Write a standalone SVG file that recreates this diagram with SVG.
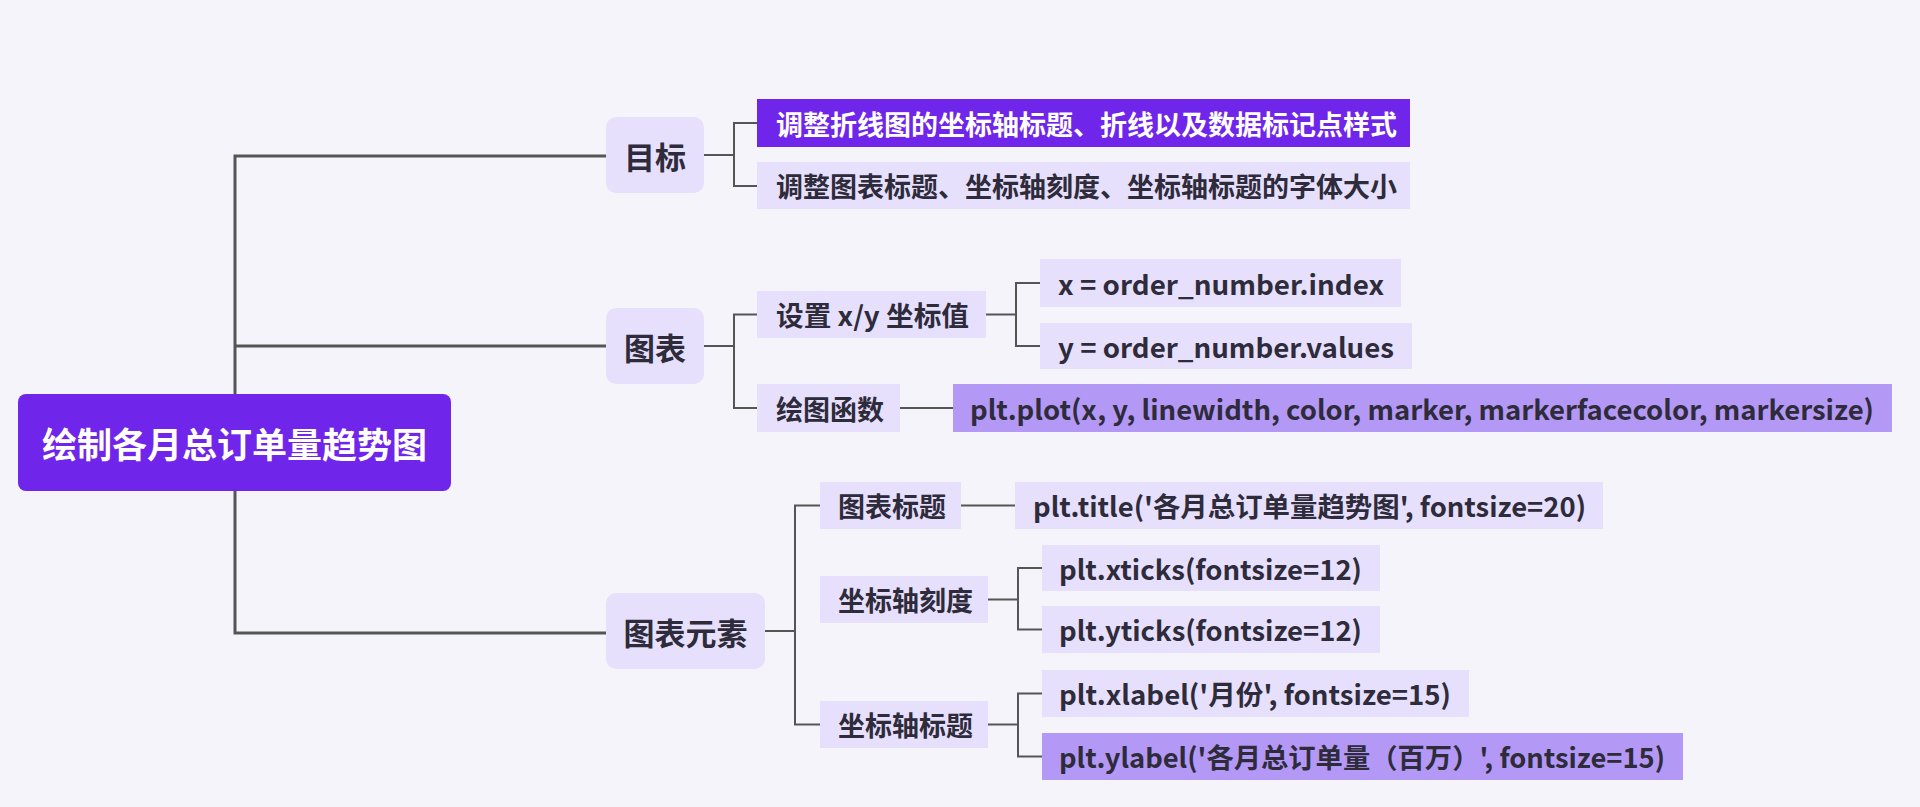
<svg xmlns="http://www.w3.org/2000/svg" width="1920" height="807" viewBox="0 0 1920 807">
<style>
.bg{fill:#f6f4fb}
.root{fill:#6f25ea}
.l2{fill:#e6e0fc}
.lt{fill:#e6e0fc}
.dk{fill:#6f25ea}
.md{fill:#b398f5}
text{font-family:"Noto Sans CJK SC","Noto Sans",sans-serif;font-weight:700;dominant-baseline:central;fill:#2e2b3b}
.t1{font-size:35px;fill:#ffffff;text-anchor:middle}
.t2{font-size:31px;text-anchor:middle}
.t3{font-size:27px}
.w{fill:#ffffff}
.c1{fill:none;stroke:#555555;stroke-width:3}
.c2{fill:none;stroke:#555555;stroke-width:2}
</style>
<rect class="bg" x="0" y="0" width="1920" height="807"/>
<g id="connectors">
<path class="c1" d="M606 156 H235 V633 H606 M235 346 H606"/>
<path class="c2" d="M704 155 H734 M757 123 H734 V186 H757"/>
<path class="c2" d="M704 346 H734 M757 314.5 H734 V408 H757"/>
<path class="c2" d="M986 314.5 H1016 M1040 283 H1016 V346 H1040"/>
<path class="c2" d="M900 408 H953"/>
<path class="c2" d="M765 631 H795 M820 505.5 H795 V724.5 H820"/>
<path class="c2" d="M961 505.5 H1015"/>
<path class="c2" d="M988 599.5 H1018 M1042 568 H1018 V629.5 H1042"/>
<path class="c2" d="M988 724.5 H1018 M1042 693.5 H1018 V756.5 H1042"/>
</g>
<g id="root"><rect class="root" x="18" y="394" width="433" height="97" rx="8"/><text class="t1" x="234.5" y="442.5">绘制各月总订单量趋势图</text></g>
<g id="n-mubiao"><rect class="l2" x="606" y="117" width="98" height="76" rx="10"/><text class="t2" x="655" y="155">目标</text></g>
<g id="n-tubiao"><rect class="l2" x="606" y="308" width="98" height="76" rx="10"/><text class="t2" x="655" y="346">图表</text></g>
<g id="n-yuansu"><rect class="l2" x="606" y="593" width="159" height="76" rx="10"/><text class="t2" x="685.5" y="631">图表元素</text></g>
<g id="n-goal1"><rect class="dk" x="757" y="99" width="653" height="48"/><text class="t3 w" x="776" y="123">调整折线图的坐标轴标题、折线以及数据标记点样式</text></g>
<g id="n-goal2"><rect class="lt" x="757" y="162" width="653" height="47"/><text class="t3" x="776" y="185.5">调整图表标题、坐标轴刻度、坐标轴标题的字体大小</text></g>
<g id="n-setxy"><rect class="lt" x="757" y="291" width="229" height="47"/><text class="t3" x="776" y="314.5" textLength="193" lengthAdjust="spacingAndGlyphs">设置 x/y 坐标值</text></g>
<g id="n-plotfn"><rect class="lt" x="757" y="384" width="143" height="48"/><text class="t3" x="776" y="408">绘图函数</text></g>
<g id="n-xidx"><rect class="lt" x="1040" y="259" width="361" height="48"/><text class="t3" x="1058" y="283" textLength="326" lengthAdjust="spacingAndGlyphs">x = order_number.index</text></g>
<g id="n-yval"><rect class="lt" x="1040" y="323" width="372" height="46"/><text class="t3" x="1058" y="346" textLength="336" lengthAdjust="spacingAndGlyphs">y = order_number.values</text></g>
<g id="n-pltplot"><rect class="md" x="953" y="384" width="939" height="48"/><text class="t3" x="970" y="408" textLength="904" lengthAdjust="spacingAndGlyphs">plt.plot(x, y, linewidth, color, marker, markerfacecolor, markersize)</text></g>
<g id="n-title"><rect class="lt" x="820" y="482" width="141" height="47"/><text class="t3" x="838" y="505.5">图表标题</text></g>
<g id="n-plttitle"><rect class="lt" x="1015" y="482" width="588" height="47"/><text class="t3" x="1033" y="505.5" textLength="553" lengthAdjust="spacingAndGlyphs">plt.title('各月总订单量趋势图', fontsize=20)</text></g>
<g id="n-ticks"><rect class="lt" x="820" y="576" width="168" height="47"/><text class="t3" x="838" y="599.5">坐标轴刻度</text></g>
<g id="n-xticks"><rect class="lt" x="1042" y="545" width="338" height="46"/><text class="t3" x="1059" y="568" textLength="303" lengthAdjust="spacingAndGlyphs">plt.xticks(fontsize=12)</text></g>
<g id="n-yticks"><rect class="lt" x="1042" y="606" width="338" height="47"/><text class="t3" x="1059" y="629.5" textLength="303" lengthAdjust="spacingAndGlyphs">plt.yticks(fontsize=12)</text></g>
<g id="n-labels"><rect class="lt" x="820" y="701" width="168" height="47"/><text class="t3" x="838" y="724.5">坐标轴标题</text></g>
<g id="n-xlabel"><rect class="lt" x="1042" y="670" width="427" height="47"/><text class="t3" x="1059" y="693.5" textLength="392" lengthAdjust="spacingAndGlyphs">plt.xlabel('月份', fontsize=15)</text></g>
<g id="n-ylabel"><rect class="md" x="1042" y="733" width="641" height="47"/><text class="t3" x="1059" y="756.5" textLength="606" lengthAdjust="spacingAndGlyphs">plt.ylabel('各月总订单量（百万）', fontsize=15)</text></g>
</svg>
